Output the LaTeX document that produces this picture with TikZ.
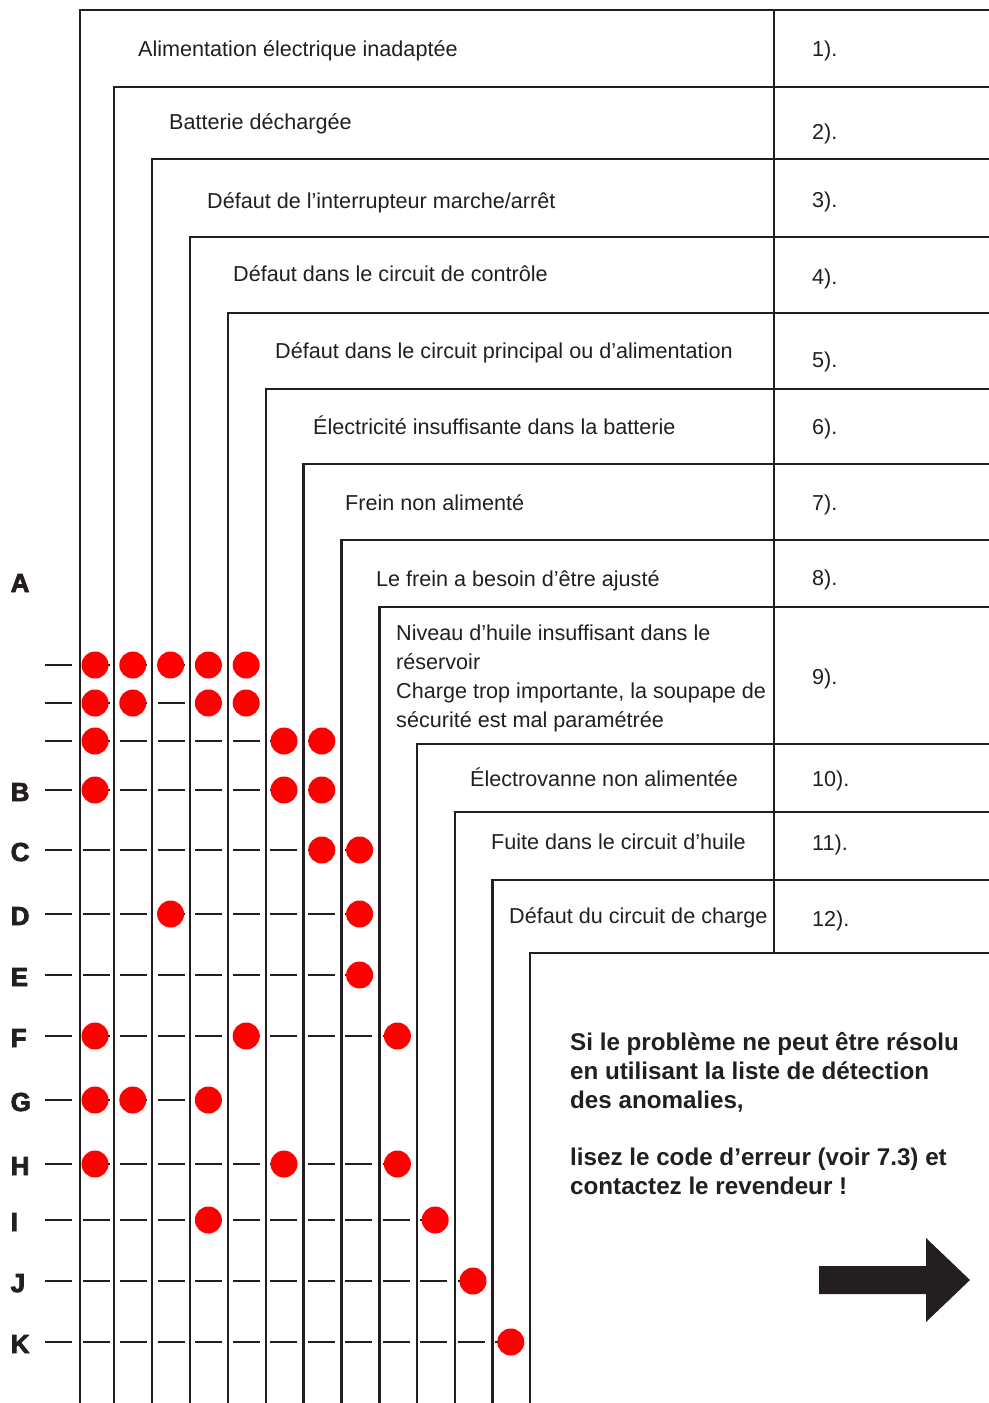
\documentclass[tikz,border=0pt]{standalone}
\usepackage{fontspec}
\setmainfont{Liberation Sans}
\newfontfamily\heavyfont{Liberation Sans}[FakeBold=3]
\definecolor{ink}{HTML}{231F20}
\definecolor{dotred}{HTML}{FF0000}
\begin{document}
\begin{tikzpicture}[x=1pt,y={(0pt,-1pt)},
  frame/.style={draw=ink, line width=2.6pt, line join=miter},
  rowline/.style={draw=ink, line width=2.6pt, dash pattern=on 27pt off 10.5pt},
  dot/.style={circle, fill=dotred, minimum size=27pt, inner sep=0pt},
  cause/.style={anchor=base west, inner sep=0pt, text=ink, font=\fontsize{21.6}{26}\selectfont},
  num/.style={cause},
  letter/.style={anchor=base west, inner sep=0pt, text=ink, font=\heavyfont\bfseries\fontsize{26}{28}\selectfont},
  advice/.style={anchor=base west, inner sep=0pt, text=ink, font=\bfseries\fontsize{24.2}{29}\selectfont},
  bigarrow/.style={fill=ink, draw=none}]
\useasboundingbox (0,0) rectangle (988,1403);

% nested frames
\foreach \x/\y [count=\i] in {80/10,114/87,152/159,190/237,228/313,266/389,303.5/464,341.5/540,379.5/607,417/744,455/812,492.5/880,530/953} {
  \coordinate (corner\i) at (\x,\y);
  \draw[frame] (\x,1406) |- (991,\y);
}
\coordinate (divtop) at (774,10);
\coordinate (divbot) at (774,953);
\draw[frame] (divtop) -- (divbot);

% cause texts
\node[cause] (t1) at (138,56) {Alimentation électrique inadaptée};
\node[cause] (t2) at (169,129) {Batterie déchargée};
\node[cause] (t3) at (207,208) {Défaut de l’interrupteur marche/arrêt};
\node[cause] (t4) at (233,281) {Défaut dans le circuit de contrôle};
\node[cause] (t5) at (275,358) {Défaut dans le circuit principal ou d’alimentation};
\node[cause] (t6) at (313,434) {Électricité insuffisante dans la batterie};
\node[cause] (t7) at (345,510) {Frein non alimenté};
\node[cause] (t8) at (376,586) {Le frein a besoin d’être ajusté};
\node[cause] (t9a) at (396,640) {Niveau d’huile insuffisant dans le};
\node[cause] (t9b) at (396,669) {réservoir};
\node[cause] (t9c) at (396,698) {Charge trop importante, la soupape de};
\node[cause] (t9d) at (396,727) {sécurité est mal paramétrée};
\node[cause] (t10) at (470,786) {Électrovanne non alimentée};
\node[cause] (t11) at (491,849) {Fuite dans le circuit d’huile};
\node[cause] (t12) at (509,923) {Défaut du circuit de charge};

% numbers
\foreach \n/\y in {1/56,2/139,3/207,4/284,5/367,6/434,7/510,8/585,9/684,10/786,11/850,12/926} {
  \node[num] (n\n) at (812,\y) {\n).};
}

% rows with dots
\foreach \r/\y/\last/\cols in {r1/665/5/{1,2,3,4,5}, r2/703/5/{1,2,4,5}, r3/741/7/{1,6,7},
    B/790/7/{1,6,7}, C/850/8/{7,8}, D/914/8/{3,8}, E/975/8/{8}, F/1036/9/{1,5,9},
    G/1100/4/{1,2,4}, H/1164/9/{1,6,9}, I/1220/10/{4,10}, J/1281/11/{11}, K/1342/12/{12}} {
  \coordinate (\r-start) at (45,\y);
  \foreach \c in \cols {
    \coordinate (\r-p\c) at ({95+37.8*(\c-1)},\y);
  }
  \draw[rowline] (\r-start) -- (\r-p\last);
  \foreach \c in \cols {
    \node[dot] (\r-d\c) at (\r-p\c) {};
  }
}

% row letters
\node[letter] (LA) at (10.5,592) {A};
\foreach \l/\y in {B/790,C/850,D/914,E/975,F/1036,G/1100,H/1164,I/1220,J/1281,K/1342} {
  \node[letter] (L\l) at (10.5,\y+11) {\l};
}

% advice text
\node[advice] (a1) at (570,1050) {Si le problème ne peut être résolu};
\node[advice] (a2) at (570,1079) {en utilisant la liste de détection};
\node[advice] (a3) at (570,1108) {des anomalies,};
\node[advice] (a4) at (570,1165) {lisez le code d’erreur (voir 7.3) et};
\node[advice] (a5) at (570,1194) {contactez le revendeur !};

% block arrow
\fill[bigarrow] (819,1266) -- (926,1266) -- (926,1238) -- (970,1280) -- (926,1322) -- (926,1294) -- (819,1294) -- cycle;
\end{tikzpicture}
\end{document}
